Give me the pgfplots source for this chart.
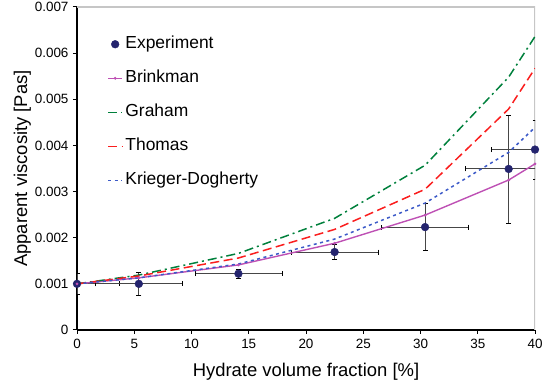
\documentclass[border=0pt]{standalone}
\usepackage{fontspec}
\setmainfont{Liberation Sans}
\usepackage{pgfplots}
\pgfplotsset{compat=1.18}
\usepackage{pgfplotstable}
\definecolor{expc}{RGB}{36,36,110}
\definecolor{brink}{RGB}{190,80,180}
\definecolor{graham}{RGB}{0,128,60}
\definecolor{thomas}{RGB}{250,30,30}
\definecolor{kd}{RGB}{60,90,200}
\pgfplotstableread{
x y ex ey
0 0.00100 3.7 0.00023
5.4 0.00100 3.8 0.00024
14.1 0.00122 3.8 0.00010
22.5 0.00169 3.8 0.00017
30.4 0.00223 3.8 0.00051
37.7 0.00349 3.8 0.00117
40 0.00391 3.8 0.00064
}\exper
\pgfplotstableread{
x b g t k
0 0.00100 0.00100 0.00100 0.00100
5.4 0.00113 0.00119 0.00117 0.00113
14.1 0.00141 0.00166 0.00156 0.00143
22.5 0.00188 0.00242 0.00218 0.00197
30.4 0.00249 0.00357 0.00305 0.00275
37.7 0.00325 0.00548 0.00479 0.00385
40 0.00360 0.00636 0.00567 0.00439
}\models
\begin{document}
\begin{tikzpicture}
\begin{axis}[
  scale only axis,
  width=458bp, height=323bp,
  xmin=0, xmax=40, ymin=0, ymax=0.007,
  axis lines=left,
  axis line style={-, black, line width=1.1pt},
  tick align=outside,
  major tick length=4bp,
  tick style={black, line width=1pt},
  xtick={0,5,...,40},
  xticklabels={0,5,10,15,20,25,30,35,40},
  ytick={0,0.001,...,0.007},
  yticklabels={0,0.001,0.002,0.003,0.004,0.005,0.006,0.007},
  scaled y ticks=false,
  ticklabel style={font=\fontsize{13.5}{15}\selectfont},
  xticklabel style={yshift=-2bp},
  yticklabel style={xshift=-1bp},
  xlabel={Hydrate volume fraction [\%]},
  ylabel={Apparent viscosity [Pas]},
  xlabel style={font=\fontsize{18.5}{20}\selectfont, yshift=-7bp},
  ylabel style={font=\fontsize{18.5}{20}\selectfont, yshift=-3bp},
  legend image code/.code={\draw[mark repeat=2,mark phase=2,#1] plot coordinates {(0bp,0bp) (7bp,0bp) (14bp,0bp)};},
  legend style={at={(rel axis cs:0.066,0.91)}, anchor=north west, draw=none, fill=none,
    font=\fontsize{17.5}{19}\selectfont, row sep=18bp, inner xsep=0bp, inner ysep=0bp,
    nodes={text height=12.5bp, text depth=3.5bp, inner ysep=0bp, inner xsep=2.5bp}},
  legend cell align=left,
]
\draw[gray!45, line width=1.1pt] (rel axis cs:0,1) -- (rel axis cs:1,1) -- (rel axis cs:1,0);
\addplot[only marks, mark=*, mark size=3.9bp, mark options={expc, fill=expc},
  error bars/.cd, x dir=both, x explicit, y dir=both, y explicit,
  error bar style={gray!55!black, line width=1pt},
  error mark options={rotate=90, mark size=2.5bp, black, line width=0.8pt}]
  table[x=x, y=y, x error=ex, y error=ey] {\exper};
\addlegendentry{Experiment}
\addplot[brink, line width=1.4pt, mark=*, mark size=0.6bp] table[x=x, y=b] {\models};
\addlegendentry{Brinkman}
\addplot[graham, line width=1.5pt, dash pattern=on 9bp off 4bp on 2bp off 4bp] table[x=x, y=g] {\models};
\addlegendentry{Graham}
\addplot[thomas, line width=1.5pt, dash pattern=on 9bp off 4.5bp] table[x=x, y=t] {\models};
\addlegendentry{Thomas}
\addplot[kd, line width=1.5pt, dash pattern=on 3bp off 3.5bp] table[x=x, y=k] {\models};
\addlegendentry{Krieger-Dogherty}
\end{axis}
\pgfresetboundingbox
\path (current axis.south west) ++(-77bp,-57bp) coordinate (bl);
\path (current axis.north east) ++(7bp,7bp) coordinate (tr);
\useasboundingbox (bl) rectangle (tr);
\end{tikzpicture}
\end{document}
